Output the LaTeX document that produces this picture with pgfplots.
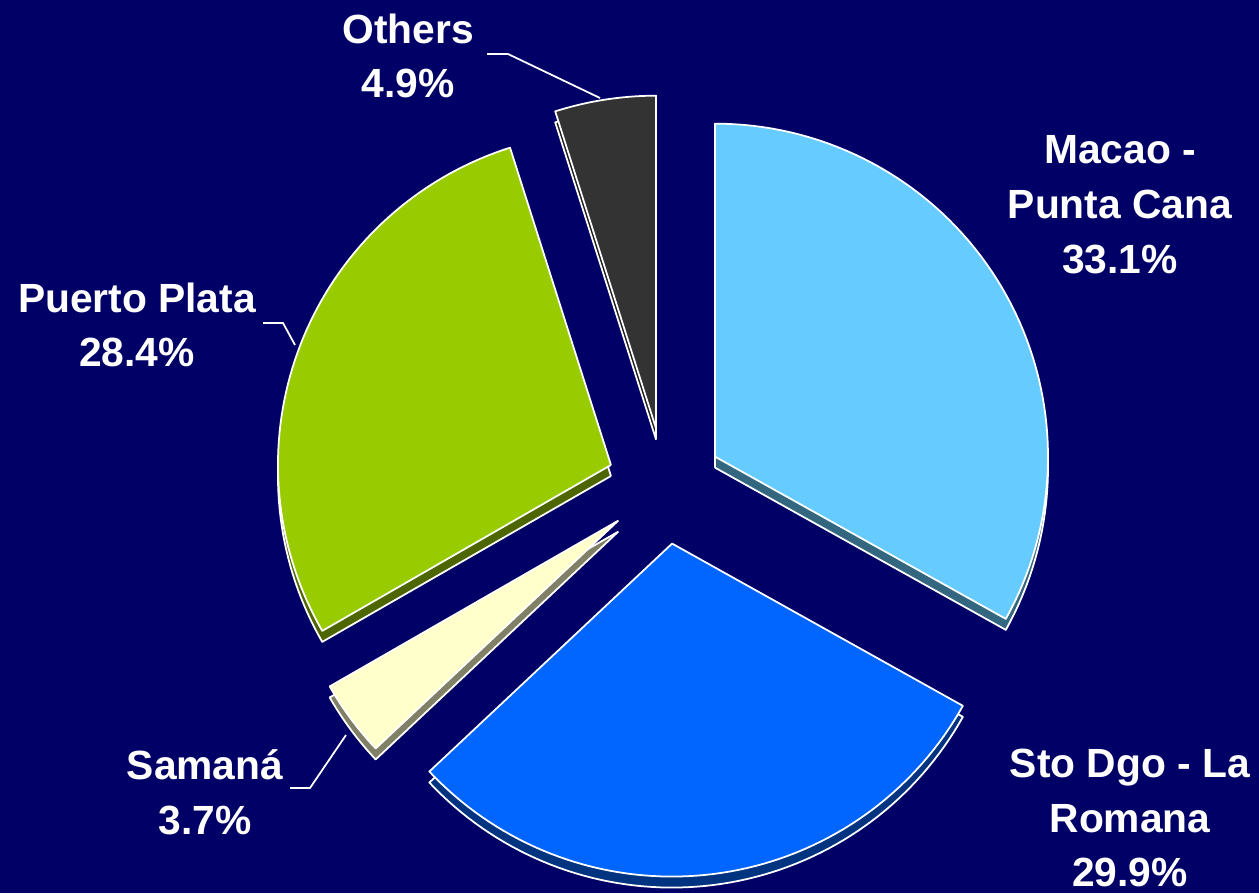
\documentclass[border=0pt]{standalone}
\usepackage{fontspec}
\setmainfont{Liberation Sans}
\usepackage{pgfplots}
\pgfplotsset{compat=1.18}

\definecolor{bg}{HTML}{000066}
\definecolor{macao}{HTML}{66CCFF}
\definecolor{macaoS}{HTML}{33667F}
\definecolor{stodgo}{HTML}{0066FF}
\definecolor{stodgoS}{HTML}{003380}
\definecolor{samana}{HTML}{FFFFCC}
\definecolor{samanaS}{HTML}{808066}
\definecolor{puerto}{HTML}{99CC00}
\definecolor{puertoS}{HTML}{4D6600}
\definecolor{others}{HTML}{333333}
\definecolor{othersS}{HTML}{1A1A1A}

% shares in percent
\def\pA{33.1}% Macao - Punta Cana
\def\pB{29.9}% Sto Dgo - La Romana
\def\pC{3.7}%  Samana
\def\pD{28.4}% Puerto Plata
\def\pE{4.9}%  Others

\def\R{333}
\def\ex{58}
\def\depth{11}

\pgfmathsetmacro\aA{90}
\pgfmathsetmacro\aB{\aA-3.6*\pA}
\pgfmathsetmacro\aC{\aB-3.6*\pB}
\pgfmathsetmacro\aD{\aC-3.6*\pC}
\pgfmathsetmacro\aE{\aD-3.6*\pD}
\pgfmathsetmacro\aF{\aE-3.6*\pE}

% one slice: start angle, end angle, fill colour, shift down
\newcommand\slice[4]{%
  \pgfmathsetmacro\mid{(#1+#2)/2}%
  \pgfmathsetmacro\cx{665+\ex*cos(\mid)}%
  \pgfmathsetmacro\cy{407+\ex*sin(\mid)-#4}%
  \addplot[fill=#3, draw=white, line width=0.5pt, line join=round,
    samples at={-1,0,1,...,72,73}]
    ({(x<0 || x>72) ? \cx : \cx+\R*cos(#1+(#2-#1)*x/72)},
     {(x<0 || x>72) ? \cy : \cy+\R*sin(#1+(#2-#1)*x/72)});
}

\begin{document}
\begin{tikzpicture}
\begin{axis}[width=12.59cm, height=8.93cm, scale only axis,
  xmin=0, xmax=1259, ymin=0, ymax=893, hide axis, clip=false]
\fill[bg] (axis cs:0,0) rectangle (axis cs:1259,893);
\coordinate (SW) at (axis cs:0,0);
\coordinate (NE) at (axis cs:1259,893);
% sides
\slice{\aA}{\aB}{macaoS}{\depth}
\slice{\aB}{\aC}{stodgoS}{\depth}
\slice{\aC}{\aD}{samanaS}{\depth}
\slice{\aD}{\aE}{puertoS}{\depth}
\slice{\aE}{\aF}{othersS}{\depth}
% tops
\slice{\aA}{\aB}{macao}{0}
\slice{\aB}{\aC}{stodgo}{0}
\slice{\aC}{\aD}{samana}{0}
\slice{\aD}{\aE}{puerto}{0}
\slice{\aE}{\aF}{others}{0}
% leaders
\draw[white, line width=0.5pt] (axis cs:487,839) -- (axis cs:508,839) -- (axis cs:600,795);
\draw[white, line width=0.5pt] (axis cs:263,570) -- (axis cs:283,570) -- (axis cs:295,548);
\draw[white, line width=0.5pt] (axis cs:290,105) -- (axis cs:310,105) -- (axis cs:346,158);
% labels
\tikzset{lab/.style={text=white, align=center, font=\fontsize{11.6}{15.6}\selectfont\bfseries}}
\node[lab] at (axis cs:408,837) {Others\\4.9\%};
\node[lab] at (axis cs:1120,688) {Macao -\\Punta Cana\\33.1\%};
\node[lab] at (axis cs:137,568) {Puerto Plata\\28.4\%};
\node[lab] at (axis cs:205,101) {Samaná\\3.7\%};
\node[lab] at (axis cs:1130,75) {Sto Dgo - La\\Romana\\29.9\%};
\end{axis}
\pgfresetboundingbox
\path[use as bounding box] (SW) rectangle (NE);
\end{tikzpicture}
\end{document}
